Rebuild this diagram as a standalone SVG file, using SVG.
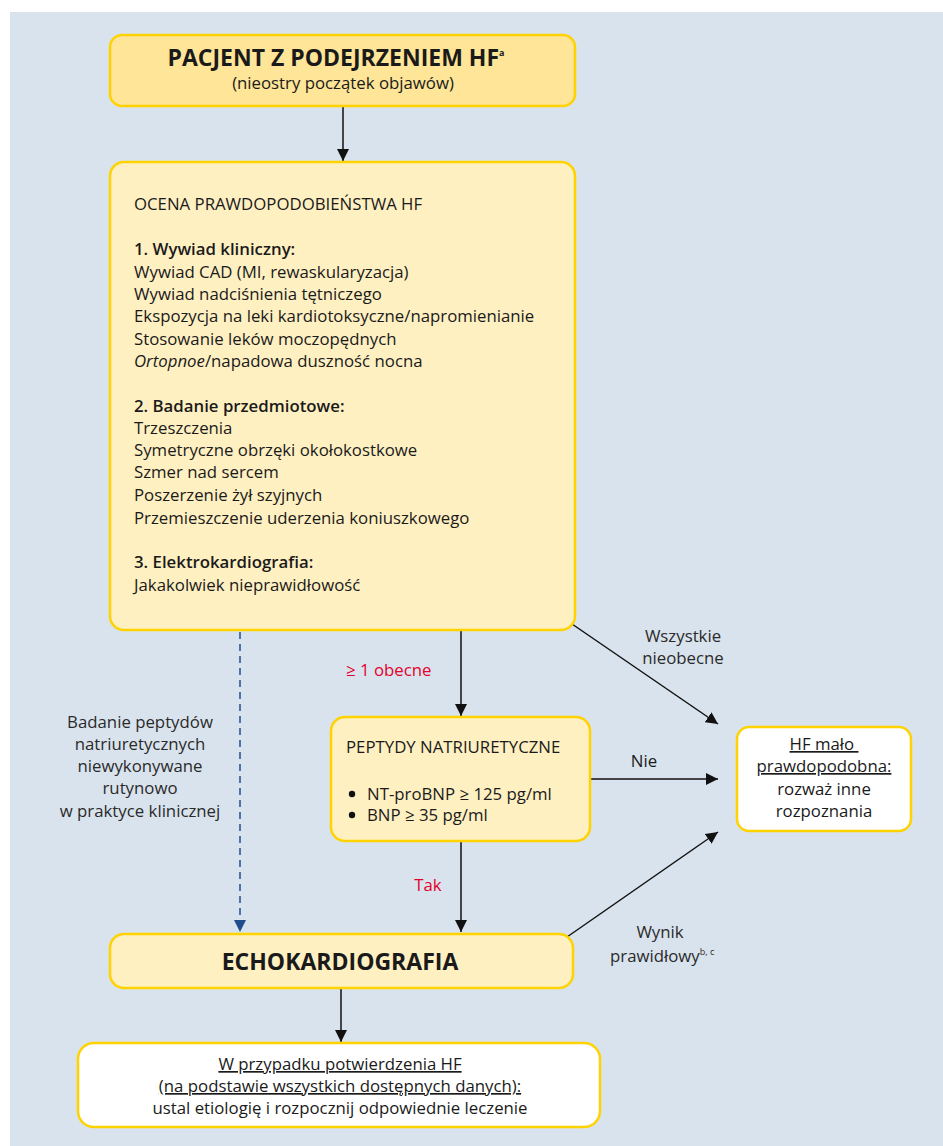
<svg xmlns="http://www.w3.org/2000/svg" width="943" height="1146" viewBox="0 0 943 1146">
<defs>
<style>
text{font-family:"Open Sans","Noto Sans","Liberation Sans",sans-serif;fill:#1a1a1a;font-size:16.8px}
.box{stroke:#ffd200;stroke-width:2.5}
.dark{fill:#fee597}
.light{fill:#fff0c2}
.white{fill:#ffffff}
.ln{stroke:#111;stroke-width:1.5;fill:none}
.dash{stroke:#1f4e8c;stroke-width:1.5;fill:none;stroke-dasharray:7,5}
.red{fill:#e4002b}
.b{font-weight:600}
.c{text-anchor:middle}
.lab{fill:#2a2a2a}
.title{font-weight:700;font-size:23px}
.sup{font-size:9px}
</style>
<marker id="ah" viewBox="0 0 12 12" refX="12" refY="6" markerWidth="12" markerHeight="12" markerUnits="userSpaceOnUse" orient="auto"><path d="M0,0 L12,6 L0,12 z" fill="#111"/></marker>
<marker id="ahb" viewBox="0 0 12 12" refX="12" refY="6" markerWidth="12" markerHeight="12" markerUnits="userSpaceOnUse" orient="auto"><path d="M0,0 L12,6 L0,12 z" fill="#1f4e8c"/></marker>
</defs>
<rect x="0" y="0" width="943" height="1146" fill="#ffffff"/>
<rect x="10" y="12" width="933" height="1134" fill="#d9e3ed"/>

<g id="connectors">
<line class="ln" x1="343" y1="107" x2="343" y2="161" marker-end="url(#ah)"/>
<line class="ln" x1="461" y1="631" x2="461" y2="716" marker-end="url(#ah)"/>
<line class="ln" x1="461" y1="842" x2="461" y2="932" marker-end="url(#ah)"/>
<line class="dash" x1="240" y1="632" x2="240" y2="932" marker-end="url(#ahb)"/>
<line class="ln" x1="572" y1="624" x2="718" y2="724" marker-end="url(#ah)"/>
<line class="ln" x1="591" y1="779" x2="718" y2="779" marker-end="url(#ah)"/>
<line class="ln" x1="567" y1="937" x2="718" y2="832" marker-end="url(#ah)"/>
<line class="ln" x1="341" y1="989" x2="341" y2="1042" marker-end="url(#ah)"/>
<text class="red" x="346" y="676">≥ 1 obecne</text>
<text class="red c" x="428" y="891">Tak</text>
<text class="lab c" x="683" y="642">Wszystkie</text>
<text class="lab c" x="683" y="664">nieobecne</text>
<text x="644" y="767" class="c">Nie</text>
<text class="lab c" x="140" y="728">Badanie peptydów</text>
<text class="lab c" x="140" y="750">natriuretycznych</text>
<text class="lab c" x="140" y="772">niewykonywane</text>
<text class="lab c" x="140" y="794">rutynowo</text>
<text class="lab c" x="140" y="817">w praktyce klinicznej</text>
<text class="lab c" x="660" y="938">Wynik</text>
<text class="lab" x="610" y="962">prawidłowy<tspan class="sup" dy="-7">b, c</tspan></text>
</g>

<g id="n1">
<rect class="box dark" x="110" y="35" width="465" height="71" rx="12"/>
<text class="c title" x="336" y="66">PACJENT Z PODEJRZENIEM HF<tspan class="sup" dy="-10">a</tspan></text>
<text class="c" x="343" y="89">(nieostry początek objawów)</text>
</g>

<g id="n2">
<rect class="box light" x="110" y="162" width="465" height="468" rx="14"/>
<text x="134" y="210">OCENA PRAWDOPODOBIEŃSTWA HF</text>
<text x="134" y="255" class="b">1. Wywiad kliniczny:</text>
<text x="134" y="278">Wywiad CAD (MI, rewaskularyzacja)</text>
<text x="134" y="300">Wywiad nadciśnienia tętniczego</text>
<text x="134" y="322">Ekspozycja na leki kardiotoksyczne/napromienianie</text>
<text x="134" y="345">Stosowanie leków moczopędnych</text>
<text x="134" y="367"><tspan font-style="italic">Ortopnoe</tspan>/napadowa duszność nocna</text>
<text x="134" y="412" class="b">2. Badanie przedmiotowe:</text>
<text x="134" y="434">Trzeszczenia</text>
<text x="134" y="456">Symetryczne obrzęki okołokostkowe</text>
<text x="134" y="478">Szmer nad sercem</text>
<text x="134" y="501">Poszerzenie żył szyjnych</text>
<text x="134" y="524">Przemieszczenie uderzenia koniuszkowego</text>
<text x="134" y="568" class="b">3. Elektrokardiografia:</text>
<text x="134" y="591">Jakakolwiek nieprawidłowość</text>
</g>

<g id="n3">
<rect class="box light" x="331" y="717" width="259" height="124" rx="14"/>
<text x="346" y="753">PEPTYDY NATRIURETYCZNE</text>
<circle cx="352" cy="794" r="3.2" fill="#111"/>
<circle cx="352" cy="815" r="3.2" fill="#111"/>
<text x="367" y="800">NT-proBNP ≥ 125 pg/ml</text>
<text x="367" y="821">BNP ≥ 35 pg/ml</text>
</g>

<g id="n4">
<rect class="box white" x="737" y="727" width="174" height="104" rx="12"/>
<text class="c" x="824" y="750" text-decoration="underline" xml:space="preserve">HF mało </text>
<text class="c" x="824" y="772" text-decoration="underline">prawdopodobna:</text>
<text class="c" x="824" y="795">rozważ inne</text>
<text class="c" x="824" y="817">rozpoznania</text>
</g>

<g id="n5">
<rect class="box light" x="110" y="934" width="463" height="54" rx="14"/>
<text class="c title" x="340" y="970">ECHOKARDIOGRAFIA</text>
</g>

<g id="n6">
<rect class="box white" x="78" y="1043" width="522" height="84" rx="16"/>
<text class="c" x="340" y="1070" text-decoration="underline">W przypadku potwierdzenia HF</text>
<text class="c" x="340" y="1092" text-decoration="underline">(na podstawie wszystkich dostępnych danych):</text>
<text class="c" x="340" y="1114">ustal etiologię i rozpocznij odpowiednie leczenie</text>
</g>
</svg>
